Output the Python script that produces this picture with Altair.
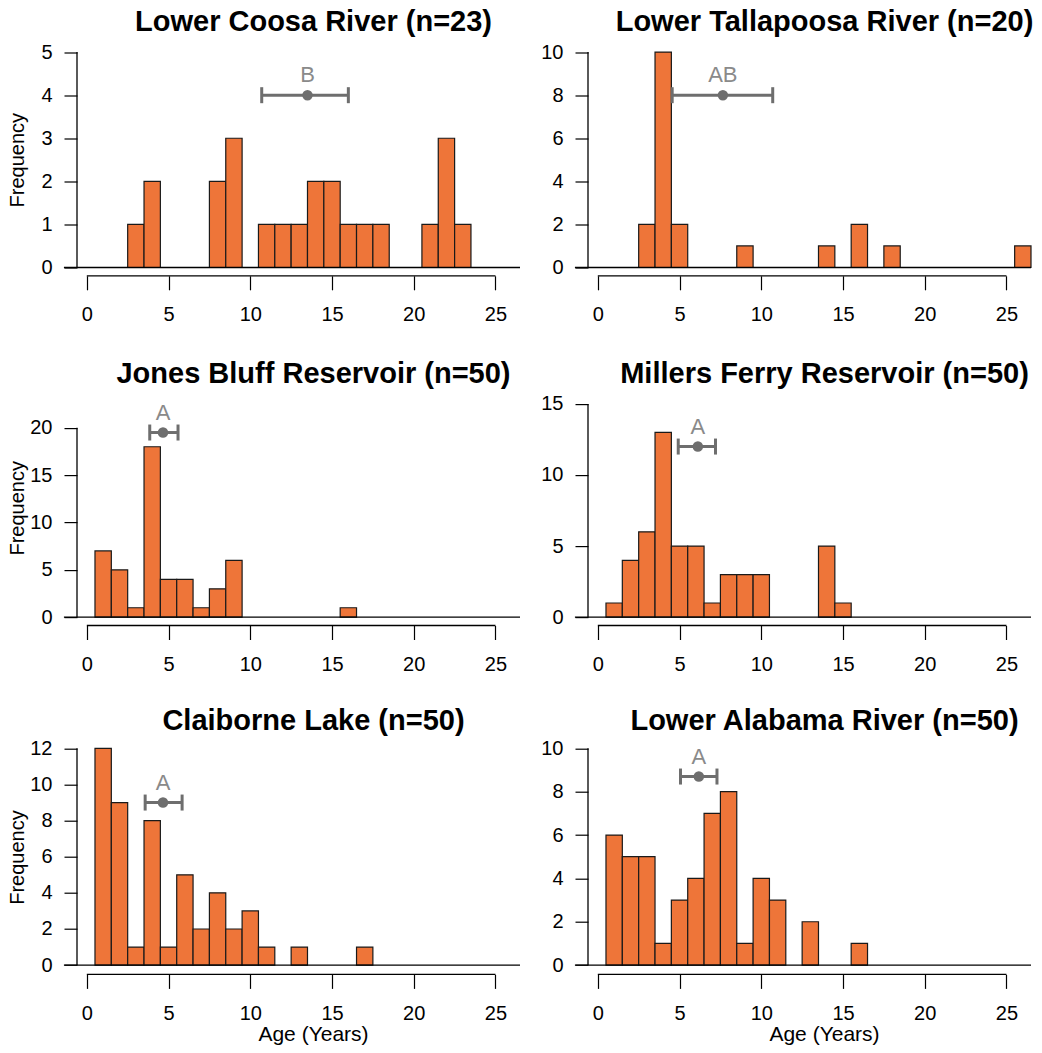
import altair as alt
import pandas as pd

# ---------------- data ----------------
titles = [
    "Lower Coosa River (n=23)",
    "Lower Tallapoosa River (n=20)",
    "Jones Bluff Reservoir (n=50)",
    "Millers Ferry Reservoir (n=50)",
    "Claiborne Lake (n=50)",
    "Lower Alabama River (n=50)",
]

ages_coosa = [3, 4, 8, 9, 11, 12, 13, 14, 15, 16, 17, 18, 21, 22, 23]
counts_coosa = [1, 2, 2, 3, 1, 1, 1, 2, 2, 1, 1, 1, 1, 3, 1]

ages_tallapoosa = [3, 4, 5, 9, 14, 16, 18, 26]
counts_tallapoosa = [2, 10, 2, 1, 1, 2, 1, 1]

ages_jones = [1, 2, 3, 4, 5, 6, 7, 8, 9, 16]
counts_jones = [7, 5, 1, 18, 4, 4, 1, 3, 6, 1]

ages_millers = [1, 2, 3, 4, 5, 6, 7, 8, 9, 10, 14, 15]
counts_millers = [1, 4, 6, 13, 5, 5, 1, 3, 3, 3, 5, 1]

ages_claiborne = [1, 2, 3, 4, 5, 6, 7, 8, 9, 10, 11, 13, 17]
counts_claiborne = [12, 9, 1, 8, 1, 5, 2, 4, 2, 3, 1, 1, 1]

ages_alabama = [1, 2, 3, 4, 5, 6, 7, 8, 9, 10, 11, 13, 16]
counts_alabama = [6, 5, 5, 1, 3, 4, 7, 8, 1, 4, 3, 2, 1]

# mean age with interval, height of the interval, significance letter
mean_age = [13.5, 7.65, 4.66, 6.12, 4.66, 6.18]
ci_low = [10.7, 4.55, 3.85, 4.92, 3.57, 5.06]
ci_high = [16.0, 10.7, 5.58, 7.2, 5.83, 7.29]
ci_height = [4, 8, 19.5, 12, 9, 8.7]
letters = ["B", "AB", "A", "A", "A", "A"]

y_tick_values = [
    [0, 1, 2, 3, 4, 5],
    [0, 2, 4, 6, 8, 10],
    [0, 5, 10, 15, 20],
    [0, 5, 10, 15],
    [0, 2, 4, 6, 8, 10, 12],
    [0, 2, 4, 6, 8, 10],
]
x_tick_values = [0, 5, 10, 15, 20, 25]

all_ages = [ages_coosa, ages_tallapoosa, ages_jones, ages_millers, ages_claiborne, ages_alabama]
all_counts = [counts_coosa, counts_tallapoosa, counts_jones, counts_millers, counts_claiborne, counts_alabama]

# ---------------- styling / layout ----------------
FONT = "Liberation Sans"
ORANGE = "#EE7539"
GREY = "#6e6e6e"
LETTER_GREY = "#8a8a8a"
X_DOMAIN = [-0.6, 26.5]
PLOT_W = 443
ROW_H = [232.3, 235.4, 234.7]
Y_DOMAINS = [
    [-0.193, 5.2],
    [-0.385, 10.4],
    [-0.876, 23.98],
    [-0.584, 15.97],
    [-0.515, 12.48],
    [-0.43, 10.4],
]
TITLE_OFFSET = [-18.3, -18.3, -21.4, -21.4, -20.4, -20.4]


def panel(i):
    row, col = divmod(i, 2)
    ydom = Y_DOMAINS[i]
    yticks = y_tick_values[i]
    xscale = alt.Scale(domain=X_DOMAIN, nice=False, zero=False)
    yscale = alt.Scale(domain=ydom, nice=False, zero=False)

    xaxis_kw = dict(
        values=x_tick_values, tickCount=len(x_tick_values), domain=False, grid=False,
        tickSize=14, tickColor="black", tickWidth=1.2, labelFontSize=20,
        labelColor="black", labelFont=FONT, labelPadding=15, labelFlush=False,
        labelOverlap=False,
    )
    if row == 2:
        xaxis_kw.update(title="Age (Years)", titleFontSize=21, titleFont=FONT,
                        titleFontWeight="normal", titleColor="black",
                        titleX=236, titleY=49)
    else:
        xaxis_kw.update(title=None)
    yaxis_kw = dict(
        values=yticks, tickCount=len(yticks), domain=False, grid=False,
        tickSize=13, tickColor="black", tickWidth=1.2, labelFontSize=20,
        labelColor="black", labelFont=FONT, labelPadding=12, labelFlush=False,
        labelOverlap=False,
    )
    if col == 0:
        yaxis_kw.update(title="Frequency", titleFontSize=20, titleFont=FONT,
                        titleFontWeight="normal", titleColor="black",
                        titleX=-50, titleY=ROW_H[row] / 2)
    else:
        yaxis_kw.update(title=None)

    bars_df = pd.DataFrame({"age": all_ages[i], "count": all_counts[i]})
    bars = (
        alt.Chart(bars_df)
        .transform_calculate(x0="datum.age - 0.5", x1="datum.age + 0.5")
        .mark_bar(fill=ORANGE, stroke="#1a1a1a", strokeWidth=1.2, opacity=1)
        .encode(
            x=alt.X("x0:Q", scale=xscale, axis=alt.Axis(**xaxis_kw)),
            x2="x1:Q",
            y=alt.Y("count:Q", scale=yscale, axis=alt.Axis(**yaxis_kw)),
            y2=alt.datum(0),
        )
    )

    base_df = pd.DataFrame({"x0": [-1.4], "x1": [26.5], "y": [0]})
    baseline = alt.Chart(base_df).mark_rule(color="black", strokeWidth=1.3).encode(
        x="x0:Q", x2="x1:Q", y="y:Q")

    xline_df = pd.DataFrame({"x0": [x_tick_values[0]], "x1": [x_tick_values[-1]], "y": [ydom[0]]})
    xline = alt.Chart(xline_df).mark_rule(color="black", strokeWidth=1.3).encode(
        x="x0:Q", x2="x1:Q", y="y:Q")

    yline_df = pd.DataFrame({"x": [X_DOMAIN[0]], "y0": [yticks[0]], "y1": [yticks[-1]]})
    yline = alt.Chart(yline_df).mark_rule(color="black", strokeWidth=1.3).encode(
        x="x:Q", y="y0:Q", y2="y1:Q")

    err_df = pd.DataFrame({
        "mean": [mean_age[i]], "lo": [ci_low[i]], "hi": [ci_high[i]],
        "y": [ci_height[i]], "letter": [letters[i]],
    })
    err_line = alt.Chart(err_df).mark_rule(color=GREY, strokeWidth=3).encode(
        x="lo:Q", x2="hi:Q", y="y:Q")
    caps = (
        alt.Chart(err_df)
        .transform_fold(["lo", "hi"], as_=["end", "pos"])
        .mark_tick(orient="vertical", size=16, thickness=3, color=GREY, opacity=1)
        .encode(x="pos:Q", y="y:Q")
    )
    dot = alt.Chart(err_df).mark_point(filled=True, size=110, color=GREY, opacity=1).encode(
        x="mean:Q", y="y:Q")
    letter = alt.Chart(err_df).mark_text(
        fontSize=22, font=FONT, color=LETTER_GREY, dy=-13, baseline="alphabetic", align="center"
    ).encode(x="mean:Q", y="y:Q", text="letter:N")

    return alt.layer(bars, baseline, xline, yline, err_line, caps, dot, letter).properties(
        width=PLOT_W,
        height=ROW_H[row],
        title=alt.TitleParams(
            titles[i], fontSize=29, fontWeight="bold", font=FONT, color="black",
            anchor="middle", frame="group", dx=15, offset=TITLE_OFFSET[i],
            baseline="alphabetic",
        ),
    )


chart = (
    alt.concat(
        *[panel(i) for i in range(6)],
        columns=2,
        spacing={"row": 113.6, "column": 68},
        bounds="flush",
    )
    .properties(
        padding={"left": 7, "top": 7.5, "right": 5, "bottom": 5},
        background="white",
    )
    .configure_view(strokeWidth=0, stroke=None)
)

chart.save("out.html", embed_options={"renderer": "svg", "actions": False})
